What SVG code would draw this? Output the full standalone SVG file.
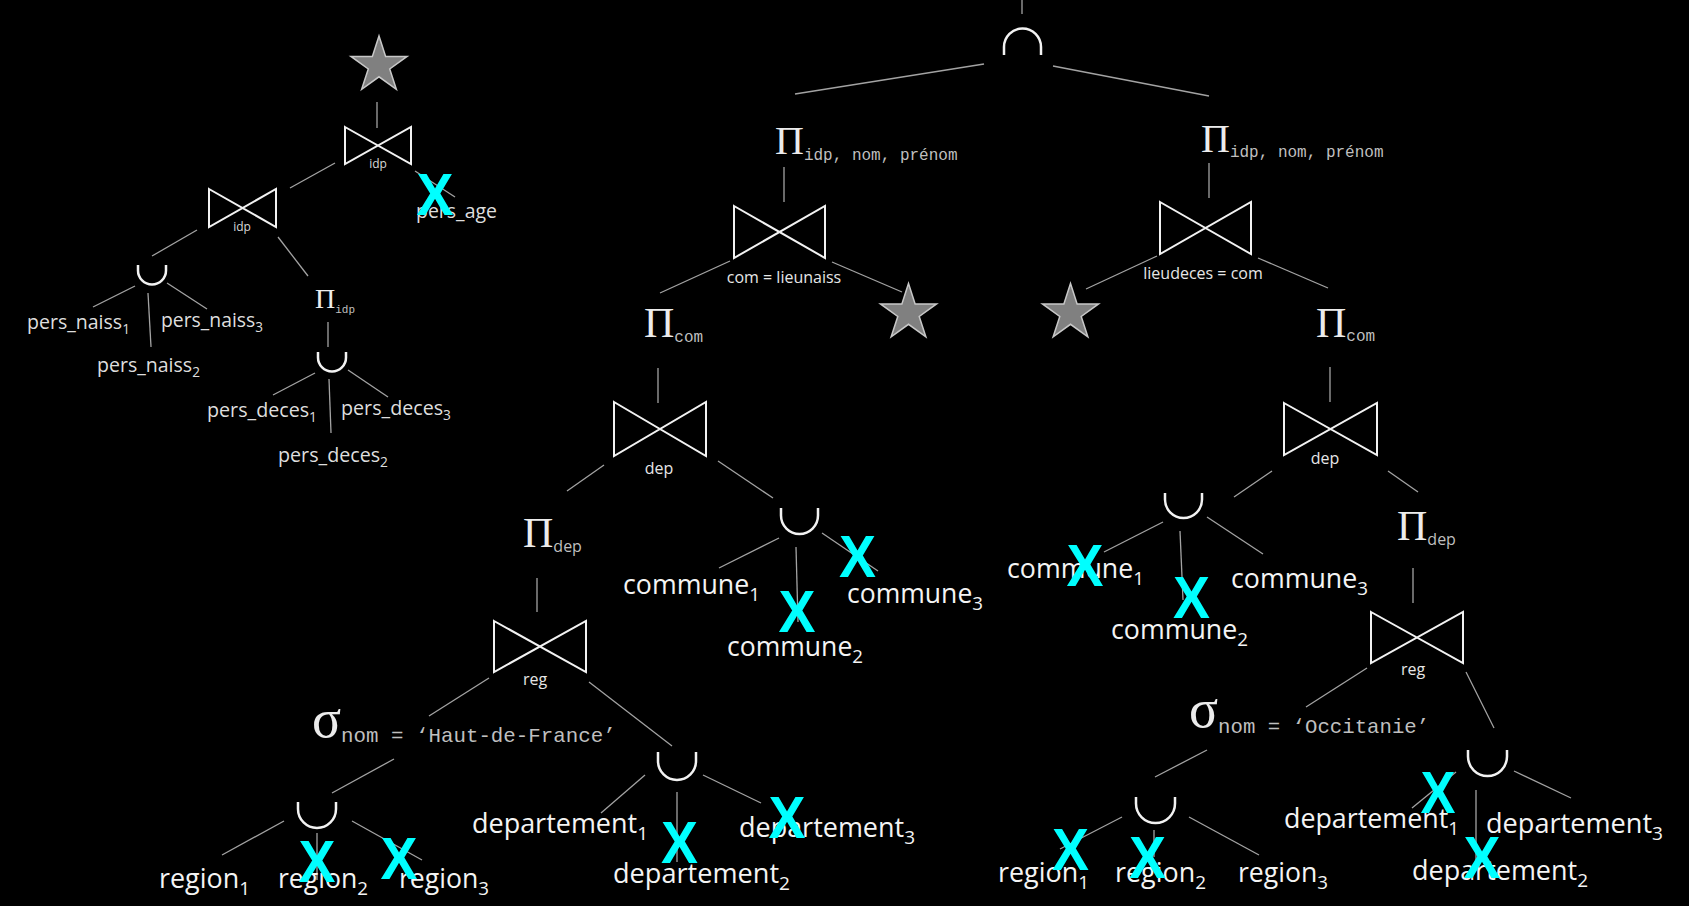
<svg xmlns="http://www.w3.org/2000/svg" xmlns:xlink="http://www.w3.org/1999/xlink" width="1689" height="906" viewBox="0 0 1689 906">
<style>
.ln{stroke:#a3a3a3;stroke-width:1.3;fill:none}
.bt{stroke:#f2f2f2;stroke-width:2;fill:none;stroke-linejoin:miter}
.cup{stroke:#f2f2f2;stroke-width:2.5;fill:none}
.star{fill:#808080;stroke:#c8c8c8;stroke-width:1.5}
.leaf{font-family:"Open Sans","Liberation Sans",sans-serif;font-size:27px;fill:#f4f4f4}
.leafs{font-family:"Open Sans","Liberation Sans",sans-serif;font-size:20px;fill:#dedede}
.sub{font-size:19px}
.subs{font-size:14px}
.lab{font-family:"Open Sans","Liberation Sans",sans-serif;font-size:16px;fill:#e6e6e6;text-anchor:middle}
.labs{font-family:"Open Sans","Liberation Sans",sans-serif;font-size:12px;fill:#d9d9d9;text-anchor:middle}
.op{font-family:"Liberation Serif",serif;fill:#ececec}
.mono{font-family:"Liberation Mono",monospace;fill:#bfbfbf}
.sans{font-family:"Open Sans","Liberation Sans",sans-serif;fill:#bfbfbf}
.x{font-family:"Liberation Sans",sans-serif;font-weight:bold;font-size:60px;fill:#00ffff;text-anchor:middle}
</style>
<defs>
<polygon id="star" points="0,-29.5 6.62,-9.12 28.06,-9.12 10.72,3.48 17.34,23.87 0,11.27 -17.34,23.87 -10.72,3.48 -28.06,-9.12 -6.62,-9.12"/>
</defs>
<rect x="0" y="0" width="1689" height="906" fill="#000"/>

<g id="connectors">
<line class="ln" x1="377" y1="102" x2="377" y2="128"/>
<line class="ln" x1="335" y1="163" x2="290" y2="188"/>
<line class="ln" x1="415" y1="171" x2="455" y2="197"/>
<line class="ln" x1="197" y1="230" x2="152" y2="256"/>
<line class="ln" x1="278" y1="237" x2="308" y2="276"/>
<line class="ln" x1="135" y1="286" x2="93" y2="307"/>
<line class="ln" x1="148" y1="293" x2="151" y2="347"/>
<line class="ln" x1="167" y1="283" x2="207" y2="309"/>
<line class="ln" x1="328" y1="322" x2="328" y2="347"/>
<line class="ln" x1="315" y1="373" x2="273" y2="395"/>
<line class="ln" x1="329" y1="379" x2="331" y2="433"/>
<line class="ln" x1="348" y1="370" x2="388" y2="397"/>

<line class="ln" x1="1022" y1="0" x2="1022" y2="14"/>
<line class="ln" x1="984" y1="64" x2="795" y2="94"/>
<line class="ln" x1="1053" y1="66" x2="1209" y2="96"/>
<line class="ln" x1="784" y1="167" x2="784" y2="202"/>
<line class="ln" x1="730" y1="261" x2="660" y2="293"/>
<line class="ln" x1="832" y1="262" x2="902" y2="292"/>
<line class="ln" x1="658" y1="368" x2="658" y2="403"/>
<line class="ln" x1="604" y1="465" x2="567" y2="491"/>
<line class="ln" x1="718" y1="461" x2="773" y2="498"/>
<line class="ln" x1="779" y1="538" x2="719" y2="568"/>
<line class="ln" x1="796" y1="547" x2="798" y2="622"/>
<line class="ln" x1="822" y1="533" x2="878" y2="571"/>
<line class="ln" x1="537" y1="578" x2="537" y2="612"/>
<line class="ln" x1="489" y1="678" x2="429" y2="716"/>
<line class="ln" x1="589" y1="682" x2="672" y2="746"/>
<line class="ln" x1="394" y1="759" x2="332" y2="793"/>
<line class="ln" x1="284" y1="821" x2="222" y2="855"/>
<line class="ln" x1="317" y1="833" x2="317" y2="880"/>
<line class="ln" x1="352" y1="821" x2="422" y2="860"/>
<line class="ln" x1="645" y1="775" x2="601" y2="813"/>
<line class="ln" x1="677" y1="792" x2="677" y2="862"/>
<line class="ln" x1="703" y1="775" x2="761" y2="803"/>

<line class="ln" x1="1209" y1="163" x2="1209" y2="198"/>
<line class="ln" x1="1157" y1="256" x2="1086" y2="289"/>
<line class="ln" x1="1258" y1="258" x2="1328" y2="288"/>
<line class="ln" x1="1330" y1="367" x2="1330" y2="402"/>
<line class="ln" x1="1272" y1="471" x2="1234" y2="497"/>
<line class="ln" x1="1388" y1="471" x2="1418" y2="492"/>
<line class="ln" x1="1163" y1="522" x2="1104" y2="552"/>
<line class="ln" x1="1180" y1="531" x2="1183" y2="600"/>
<line class="ln" x1="1207" y1="517" x2="1263" y2="554"/>
<line class="ln" x1="1413" y1="568" x2="1413" y2="603"/>
<line class="ln" x1="1367" y1="668" x2="1306" y2="707"/>
<line class="ln" x1="1466" y1="672" x2="1494" y2="728"/>
<line class="ln" x1="1207" y1="750" x2="1155" y2="777"/>
<line class="ln" x1="1122" y1="817" x2="1060" y2="849"/>
<line class="ln" x1="1154" y1="830" x2="1154" y2="857"/>
<line class="ln" x1="1189" y1="817" x2="1259" y2="855"/>
<line class="ln" x1="1456" y1="772" x2="1412" y2="808"/>
<line class="ln" x1="1476" y1="790" x2="1476" y2="870"/>
<line class="ln" x1="1514" y1="771" x2="1571" y2="798"/>
</g>

<!-- Left tree -->
<g id="star-left"><use href="#star" xlink:href="#star" class="star" x="379" y="65.5"/></g>
<g id="join-idp-top"><path class="bt" d="M345,127 L411,164 L411,127 L345,164 Z"/><text class="labs" x="378" y="168">idp</text></g>
<g id="join-idp-left"><path class="bt" d="M209,189 L276,227 L276,189 L209,227 Z"/><text class="labs" x="242" y="231">idp</text></g>
<g id="union-naiss"><path class="cup" d="M138,265 V270.5 A14 14 0 0 0 166,270.5 V265"/></g>
<g id="proj-idp"><text class="op" x="315" y="308" font-size="28">Π<tspan class="mono" font-size="11" dy="5">idp</tspan></text></g>
<g id="union-deces"><path class="cup" d="M318,352 V357.5 A14 14 0 0 0 346,357.5 V352"/></g>
<g id="leaf-pers_age"><text class="leafs" x="416" y="218" textLength="81" lengthAdjust="spacingAndGlyphs">pers_age</text></g>
<g id="leaf-naiss1"><text class="leafs" x="27" y="329" textLength="103" lengthAdjust="spacingAndGlyphs">pers_naiss<tspan class="subs" dy="5">1</tspan></text></g>
<g id="leaf-naiss3"><text class="leafs" x="161" y="327" textLength="102" lengthAdjust="spacingAndGlyphs">pers_naiss<tspan class="subs" dy="5">3</tspan></text></g>
<g id="leaf-naiss2"><text class="leafs" x="97" y="372" textLength="103" lengthAdjust="spacingAndGlyphs">pers_naiss<tspan class="subs" dy="5">2</tspan></text></g>
<g id="leaf-deces1"><text class="leafs" x="207" y="417" textLength="110" lengthAdjust="spacingAndGlyphs">pers_deces<tspan class="subs" dy="5">1</tspan></text></g>
<g id="leaf-deces3"><text class="leafs" x="341" y="415" textLength="110" lengthAdjust="spacingAndGlyphs">pers_deces<tspan class="subs" dy="5">3</tspan></text></g>
<g id="leaf-deces2"><text class="leafs" x="278" y="462" textLength="110" lengthAdjust="spacingAndGlyphs">pers_deces<tspan class="subs" dy="5">2</tspan></text></g>

<!-- Main tree -->
<g id="intersect"><path class="cup" d="M1004,55 V47 A18.5 18.5 0 0 1 1041,47 V55"/></g>
<g id="proj-left"><text class="op" x="775" y="154" font-size="40">Π<tspan class="mono" font-size="16" dy="6">idp, nom, prénom</tspan></text></g>
<g id="proj-right"><text class="op" x="1201" y="152" font-size="40">Π<tspan class="mono" font-size="16" dy="5">idp, nom, prénom</tspan></text></g>
<g id="join-lieunaiss"><path class="bt" d="M734,206 L825,258 L825,206 L734,258 Z"/><text class="lab" x="784" y="283">com = lieunaiss</text></g>
<g id="join-lieudeces"><path class="bt" d="M1160,202 L1251,254 L1251,202 L1160,254 Z"/><text class="lab" x="1203" y="279">lieudeces = com</text></g>
<g id="star-mid1"><use href="#star" xlink:href="#star" class="star" x="908.5" y="313"/></g>
<g id="star-mid2"><use href="#star" xlink:href="#star" class="star" x="1070.5" y="313"/></g>
<g id="proj-com-left"><text class="op" x="644" y="337" font-size="42">Π<tspan class="mono" font-size="16" dy="5">com</tspan></text></g>
<g id="proj-com-right"><text class="op" x="1316" y="337" font-size="42">Π<tspan class="mono" font-size="16" dy="4">com</tspan></text></g>
<g id="join-dep-left"><path class="bt" d="M614,402 L706,456 L706,402 L614,456 Z"/><text class="lab" x="659" y="474">dep</text></g>
<g id="join-dep-right"><path class="bt" d="M1284,403 L1377,455 L1377,403 L1284,455 Z"/><text class="lab" x="1325" y="464">dep</text></g>
<g id="proj-dep-left"><text class="op" x="523" y="547" font-size="42">Π<tspan class="sans" font-size="16" dy="5">dep</tspan></text></g>
<g id="proj-dep-right"><text class="op" x="1397" y="540" font-size="42">Π<tspan class="sans" font-size="16" dy="5">dep</tspan></text></g>
<g id="union-commune-left"><path class="cup" d="M781,508 V515.5 A18.5 18.5 0 0 0 818,515.5 V508"/></g>
<g id="union-commune-right"><path class="cup" d="M1165,493 V499.5 A18.5 18.5 0 0 0 1202,499.5 V493"/></g>
<g id="leaf-commune1-left"><text class="leaf" x="623" y="594" textLength="137" lengthAdjust="spacingAndGlyphs">commune<tspan class="sub" dy="7">1</tspan></text></g>
<g id="leaf-commune2-left"><text class="leaf" x="727" y="656" textLength="136" lengthAdjust="spacingAndGlyphs">commune<tspan class="sub" dy="7">2</tspan></text></g>
<g id="leaf-commune3-left"><text class="leaf" x="847" y="603" textLength="136" lengthAdjust="spacingAndGlyphs">commune<tspan class="sub" dy="7">3</tspan></text></g>
<g id="leaf-commune1-right"><text class="leaf" x="1007" y="578" textLength="137" lengthAdjust="spacingAndGlyphs">commune<tspan class="sub" dy="7">1</tspan></text></g>
<g id="leaf-commune2-right"><text class="leaf" x="1111" y="639" textLength="137" lengthAdjust="spacingAndGlyphs">commune<tspan class="sub" dy="7">2</tspan></text></g>
<g id="leaf-commune3-right"><text class="leaf" x="1231" y="588" textLength="137" lengthAdjust="spacingAndGlyphs">commune<tspan class="sub" dy="7">3</tspan></text></g>
<g id="join-reg-left"><path class="bt" d="M494,621 L586,672 L586,621 L494,672 Z"/><text class="lab" x="535" y="685">reg</text></g>
<g id="join-reg-right"><path class="bt" d="M1371,612 L1463,663 L1463,612 L1371,663 Z"/><text class="lab" x="1413" y="675">reg</text></g>
<g id="select-left"><text class="op" x="312" y="737" font-size="54">σ<tspan class="mono" font-size="20.8" dy="5">nom = ‘Haut-de-France’</tspan></text></g>
<g id="select-right"><text class="op" x="1189" y="727" font-size="54">σ<tspan class="mono" font-size="20.7" dy="6">nom = ‘Occitanie’</tspan></text></g>
<g id="union-region-left"><path class="cup" d="M298,802 V809 A19 19 0 0 0 336,809 V802"/></g>
<g id="union-dept-left"><path class="cup" d="M658,752 V761 A19 19 0 0 0 696,761 V752"/></g>
<g id="union-region-right"><path class="cup" d="M1136,797 V803.5 A19.5 19.5 0 0 0 1175,803.5 V797"/></g>
<g id="union-dept-right"><path class="cup" d="M1468,750 V756.5 A19.5 19.5 0 0 0 1507,756.5 V750"/></g>
<g id="leaf-region1-left"><text class="leaf" x="159" y="888" textLength="91" lengthAdjust="spacingAndGlyphs">region<tspan class="sub" dy="7">1</tspan></text></g>
<g id="leaf-region2-left"><text class="leaf" x="278" y="888" textLength="90" lengthAdjust="spacingAndGlyphs">region<tspan class="sub" dy="7">2</tspan></text></g>
<g id="leaf-region3-left"><text class="leaf" x="399" y="888" textLength="90" lengthAdjust="spacingAndGlyphs">region<tspan class="sub" dy="7">3</tspan></text></g>
<g id="leaf-dept1-left"><text class="leaf" x="472" y="833" textLength="176" lengthAdjust="spacingAndGlyphs">departement<tspan class="sub" dy="7">1</tspan></text></g>
<g id="leaf-dept2-left"><text class="leaf" x="613" y="883" textLength="177" lengthAdjust="spacingAndGlyphs">departement<tspan class="sub" dy="7">2</tspan></text></g>
<g id="leaf-dept3-left"><text class="leaf" x="739" y="837" textLength="176" lengthAdjust="spacingAndGlyphs">departement<tspan class="sub" dy="7">3</tspan></text></g>
<g id="leaf-region1-right"><text class="leaf" x="998" y="882" textLength="91" lengthAdjust="spacingAndGlyphs">region<tspan class="sub" dy="7">1</tspan></text></g>
<g id="leaf-region2-right"><text class="leaf" x="1115" y="882" textLength="91" lengthAdjust="spacingAndGlyphs">region<tspan class="sub" dy="7">2</tspan></text></g>
<g id="leaf-region3-right"><text class="leaf" x="1238" y="882" textLength="90" lengthAdjust="spacingAndGlyphs">region<tspan class="sub" dy="7">3</tspan></text></g>
<g id="leaf-dept1-right"><text class="leaf" x="1284" y="828" textLength="175" lengthAdjust="spacingAndGlyphs">departement<tspan class="sub" dy="7">1</tspan></text></g>
<g id="leaf-dept2-right"><text class="leaf" x="1412" y="880" textLength="176" lengthAdjust="spacingAndGlyphs">departement<tspan class="sub" dy="7">2</tspan></text></g>
<g id="leaf-dept3-right"><text class="leaf" x="1486" y="833" textLength="177" lengthAdjust="spacingAndGlyphs">departement<tspan class="sub" dy="7">3</tspan></text></g>

<g id="crosses">
<text class="x" x="435" y="215" textLength="37" lengthAdjust="spacingAndGlyphs">X</text>
<text class="x" x="797" y="632" textLength="37" lengthAdjust="spacingAndGlyphs">X</text>
<text class="x" x="857.5" y="577" textLength="37" lengthAdjust="spacingAndGlyphs">X</text>
<text class="x" x="1085" y="586" textLength="37" lengthAdjust="spacingAndGlyphs">X</text>
<text class="x" x="1191.5" y="618" textLength="37" lengthAdjust="spacingAndGlyphs">X</text>
<text class="x" x="317" y="882" textLength="37" lengthAdjust="spacingAndGlyphs">X</text>
<text class="x" x="399" y="879" textLength="37" lengthAdjust="spacingAndGlyphs">X</text>
<text class="x" x="679.5" y="863" textLength="37" lengthAdjust="spacingAndGlyphs">X</text>
<text class="x" x="787" y="838" textLength="37" lengthAdjust="spacingAndGlyphs">X</text>
<text class="x" x="1070.5" y="870" textLength="37" lengthAdjust="spacingAndGlyphs">X</text>
<text class="x" x="1147.5" y="878" textLength="37" lengthAdjust="spacingAndGlyphs">X</text>
<text class="x" x="1438" y="813" textLength="35" lengthAdjust="spacingAndGlyphs">X</text>
<text class="x" x="1482" y="878" textLength="37" lengthAdjust="spacingAndGlyphs">X</text>
</g>
</svg>
